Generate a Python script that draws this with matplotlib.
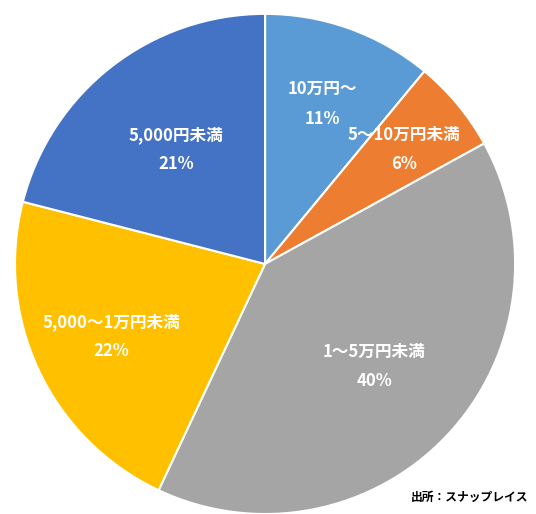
import numpy as np
import matplotlib.pyplot as plt

plt.rcParams['font.family'] = ['Noto Sans CJK JP', 'DejaVu Sans']

labels = ['10万円～', '5～10万円未満', '1～5万円未満', '5,000～1万円未満', '5,000円未満']
shares = [11, 6, 40, 22, 21]
colors = ['#5B9BD5', '#ED7D31', '#A5A5A5', '#FFC000', '#4472C4']

fig = plt.figure(figsize=(5.36, 5.14), dpi=100)
ax = fig.add_axes([0.028, 0.0, 0.933, 0.973])
wedges, texts = ax.pie(shares, colors=colors, startangle=90, counterclock=False,
                       wedgeprops=dict(edgecolor='white', linewidth=1.5))
ax.set_xlim(-1.0, 1.0)
ax.set_ylim(-1.0, 1.0)
ax.set_aspect('auto')

dist = [0.68, 0.72, 0.6, 0.68, 0.58]
for w, lab, s, d in zip(wedges, labels, shares, dist):
    ang = np.radians((w.theta1 + w.theta2) / 2)
    ax.text(d * np.cos(ang), d * np.sin(ang), f'{lab}\n{s}%', ha='center', va='center',
            color='white', fontsize=12, fontweight='bold', linespacing=1.8)

fig.text(0.985, 0.02, '出所：スナップレイス', ha='right', va='bottom', fontsize=8.5, fontweight='bold')
fig.savefig('out.png', dpi=100)
